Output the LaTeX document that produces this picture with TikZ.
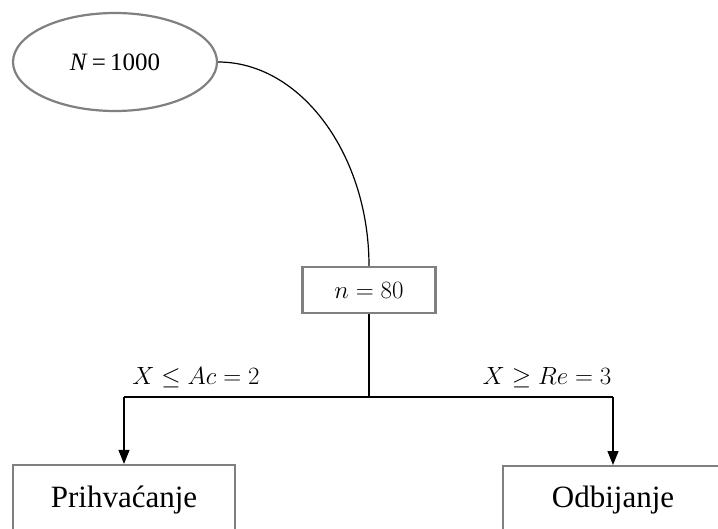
\documentclass[tikz,border=0pt]{standalone}
\usepackage{fontspec}
\setmainfont{Liberation Serif}
\usetikzlibrary{shapes.geometric,arrows.meta}
\definecolor{boxgray}{RGB}{128,128,128}
\tikzset{
  grayline/.style={draw=boxgray, line width=2.2pt},
  oval/.style={grayline, ellipse, minimum width=204pt, minimum height=98pt, inner sep=0pt, font=\fontsize{25}{29}\selectfont},
  sbox/.style={grayline, rectangle, minimum width=133pt, minimum height=46pt, inner sep=0pt, font=\fontsize{26}{30}\selectfont},
  endbox/.style={grayline, rectangle, minimum height=70pt, inner sep=0pt, font=\fontsize{31}{36}\selectfont},
  conn/.style={black, line width=1.2pt},
  arr/.style={conn, -{Triangle[length=14pt,width=11pt]}},
  lbl/.style={font=\fontsize{23.5}{27}\selectfont, inner sep=0pt}
}
\begin{document}
\begin{tikzpicture}[x=1pt,y=-1pt]
\clip (0,0) rectangle (718,528);
\fill[white] (0,0) rectangle (718,528);
\node[oval] (N) at (115,62) {\textit{N}\,=\,1000};
\node[sbox] (n) at (369,290) {$n = 80$};
\node[endbox, minimum width=222pt] (acc) at (124,500) {Prihvaćanje};
\node[endbox, minimum width=222pt, anchor=north west] (rej) at (502,465) {};
\node[font=\fontsize{31}{36}\selectfont] (rejt) at (613,500) {Odbijanje};
\coordinate (j) at (369,397);
\coordinate (jl) at (124,397);
\coordinate (jr) at (613,397);
\draw[conn] (N.east) .. controls (301,62) and (369,155) .. (n.north);
\draw[conn] (n.south) -- (j);
\draw[conn] (jl) -- (jr);
\draw[arr] (jl) -- (acc.north);
\draw[arr] (jr) -- (jr |- rej.north);
\node[lbl] (la) at (196,378) {$X \le Ac = 2$};
\node[lbl] (lr) at (547,378) {$X \ge Re = 3$};
\end{tikzpicture}
\end{document}
